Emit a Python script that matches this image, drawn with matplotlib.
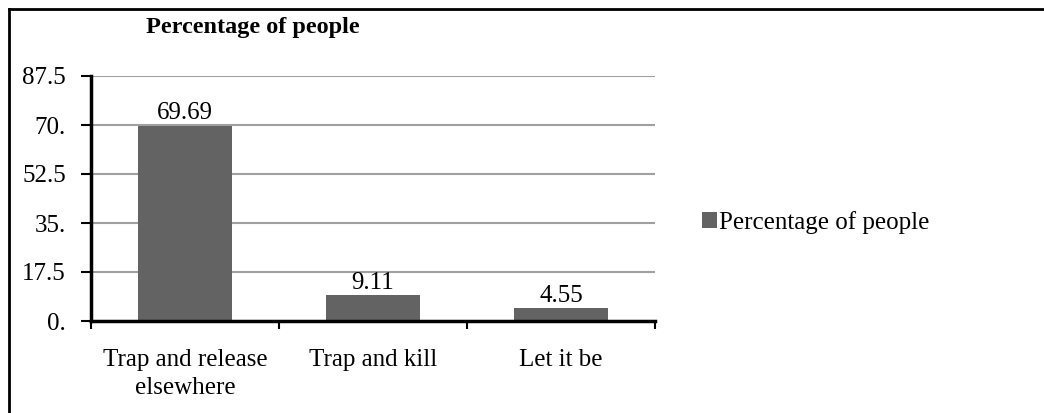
import matplotlib
matplotlib.use("Agg")
import matplotlib.pyplot as plt
from matplotlib.lines import Line2D

categories = ["Trap and release\nelsewhere", "Trap and kill", "Let it be"]
values = [69.69, 9.11, 4.55]
yticks = [0, 17.5, 35, 52.5, 70, 87.5]
ytick_labels = ["0.", "17.5", "35.", "52.5", "70.", "87.5"]
series_name = "Percentage of people"

plt.rcParams['font.family'] = ['Liberation Serif', 'DejaVu Serif']

W, H = 1044, 413
fig = plt.figure(figsize=(W / 100, H / 100), dpi=100)

# outer chart border (top and left visible, rest cropped)
fig.add_artist(Line2D([9 / W, 1.0], [1 - 9 / H, 1 - 9 / H], color='black', lw=2,
                      transform=fig.transFigure))
fig.add_artist(Line2D([9 / W, 9 / W], [0, 1 - 9 / H], color='black', lw=2,
                      transform=fig.transFigure))

ax = fig.add_axes([91 / W, 1 - 321 / H, (655 - 91) / W, (321 - 76) / H])
x = range(len(categories))
ax.bar(x, values, width=0.5, color='#636363', label=series_name, zorder=3)

ax.set_xlim(-0.5, 2.5)
ax.set_ylim(0, 87.5)
ax.set_yticks(yticks)
ax.set_yticklabels(ytick_labels, fontsize=18)
ax.yaxis.grid(True, color='#a0a0a0', lw=1.5, zorder=0)

ax.set_xticks([-0.5, 0.5, 1.5, 2.5])
ax.set_xticklabels([])
ax.set_xticks(list(x), minor=True)
ax.set_xticklabels(categories, minor=True, fontsize=18, linespacing=1.35)
ax.tick_params(axis='x', which='minor', length=0, pad=20)
ax.tick_params(axis='x', which='major', length=6, width=1.5, direction='out')
ax.tick_params(axis='y', length=7, width=1.5, direction='out', pad=11)

for s in ['top', 'right']:
    ax.spines[s].set_visible(False)
for s in ['left', 'bottom']:
    ax.spines[s].set_linewidth(2.5)
    ax.spines[s].set_zorder(4)

for xi, v in zip(x, values):
    ax.annotate(f"{v:.2f}", (xi, v), xytext=(0, 1), textcoords='offset points',
                ha='center', va='bottom', fontsize=18)

fig.text(253 / W, 1 - 28 / H, series_name, ha='center', va='center',
         fontsize=17.5, fontweight='bold')

ax.legend(loc='center left', bbox_to_anchor=(1.043, 0.404), frameon=False,
          fontsize=18, handlelength=0.6, handleheight=0.6, handletextpad=0.1)

fig.savefig("out.png", dpi=100)
